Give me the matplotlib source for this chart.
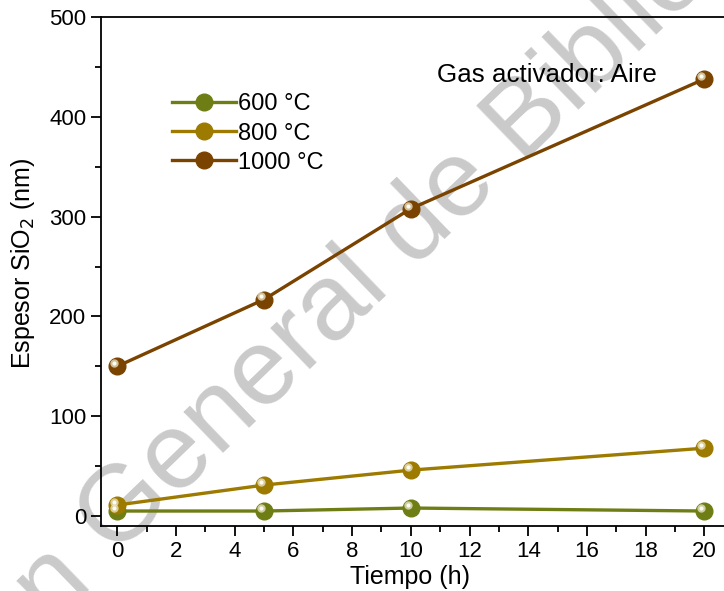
import numpy as np
import matplotlib.pyplot as plt
import matplotlib.transforms as mtransforms
from matplotlib.ticker import MultipleLocator

plt.rcParams['font.family'] = ['Liberation Sans', 'DejaVu Sans']

# espesor de SiO2 vs tiempo de oxidacion
tiempo = [0, 5, 10, 20]
esp_600 = [5, 5, 8, 5]
esp_800 = [11, 31, 46, 68]
esp_1000 = [150, 217, 308, 438]
series = [("600 °C", esp_600, "#6f7e14"),
          ("800 °C", esp_800, "#9d7a00"),
          ("1000 °C", esp_1000, "#7a4300")]

fig = plt.figure(figsize=(7.24, 5.91), dpi=100)
ax = fig.add_axes([0.1395, 0.110, 0.874, 0.861])
ax.patch.set_alpha(0)

# marca de agua (dos piezas ancladas en el inicio de "General")
wm_size = 78
ang = 44
x0, y0 = 114 / 724, 1 - 558 / 591
sp = 0.278 * wm_size / 72
dx = -sp * np.cos(np.radians(ang))
dy = -sp * np.sin(np.radians(ang))
off = mtransforms.ScaledTranslation(dx, dy, fig.dpi_scale_trans)
wm = dict(fontsize=wm_size, color="#cacaca", rotation=ang, va="baseline",
          rotation_mode="anchor", zorder=-5)
fig.text(x0, y0, "General de Bibliotecas", transform=fig.transFigure, ha="left", **wm)
fig.text(x0, y0, "Dirección", transform=fig.transFigure + off, ha="right", **wm)

hl = mtransforms.ScaledTranslation(-2.2 / 72, 2.2 / 72, fig.dpi_scale_trans)
handles = []
for label, vals, col in series:
    ln, = ax.plot(tiempo, vals, "-", color=col, lw=2.4, marker="o", ms=12,
                  mec=col, mfc=col, label=label, zorder=3)
    ax.plot(tiempo, vals, "o", ms=6, color="#eee8cc", alpha=0.75, mew=0,
            transform=ax.transData + hl, zorder=4)
    ax.plot(tiempo, vals, "o", ms=3, color="#fcfbf4", mew=0,
            transform=ax.transData + hl, zorder=5)
    handles.append(ln)

ax.set_xlim(-0.55, 21)
ax.set_ylim(-10, 500)
ax.xaxis.set_major_locator(MultipleLocator(2))
ax.xaxis.set_minor_locator(MultipleLocator(1))
ax.yaxis.set_major_locator(MultipleLocator(100))
ax.yaxis.set_minor_locator(MultipleLocator(50))
ax.tick_params(which="major", direction="out", length=7, width=1.3, labelsize=16)
ax.tick_params(which="minor", direction="out", length=4, width=1.3)
for s in ax.spines.values():
    s.set_linewidth(1.3)

ax.set_xlabel("Tiempo (h)", fontsize=18)
ax.set_ylabel("Espesor SiO$_2$ (nm)", fontsize=18)
ax.xaxis.set_label_coords(0.488, -0.077)
ax.yaxis.set_label_coords(-0.101, 0.517)

ax.text(0.531, 0.886, "Gas activador: Aire", transform=ax.transAxes, fontsize=18.7,
        ha="left", va="center")

leg = ax.legend(handles=handles, loc="upper left", bbox_to_anchor=(0.112, 0.85),
                frameon=False, fontsize=17, handlelength=2.7, handletextpad=0.1,
                labelspacing=0.3, borderaxespad=0, borderpad=0)

fig.savefig("out.png", dpi=100)
